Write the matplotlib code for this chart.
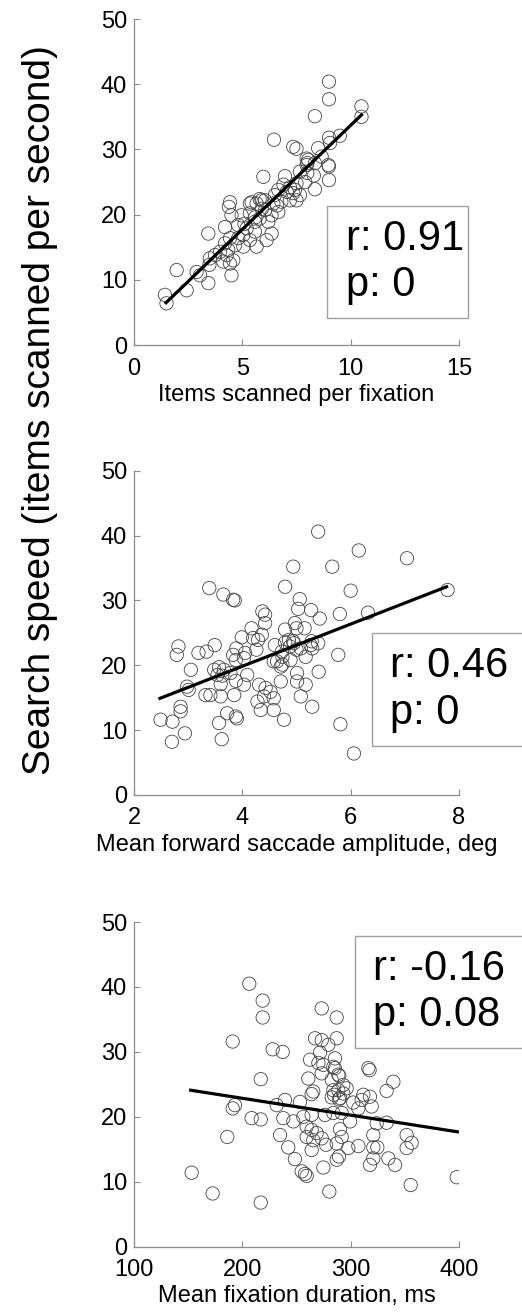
import matplotlib
matplotlib.use("Agg")
from matplotlib import pyplot as plt
from matplotlib.patches import Rectangle

plt.rcParams["font.family"] = ["Liberation Sans", "DejaVu Sans"]

# panel 1: items scanned per fixation
p1_x = [9.0, 9.0, 8.35, 10.5, 10.5, 6.46, 7.35, 7.5, 9.0, 9.5, 9.05, 8.5, 8.66, 7.97, 8.0, 8.35,
        9.0, 9.0, 8.35, 7.66, 6.97, 5.97, 8.0, 6.66, 7.05, 7.43, 7.66, 7.2, 6.8, 5.8, 6.05, 5.43,
        4.43, 4.38, 8.04, 7.97, 8.97, 7.5, 7.35, 7.5, 6.43, 5.89, 5.66, 5.35, 4.5, 4.97, 5.35, 6.05,
        6.35, 6.66, 5.8, 6.2, 5.58, 3.43, 4.2, 4.81, 5.2, 5.58, 5.05, 5.35, 4.81, 4.43, 4.2, 4.66,
        5.05, 5.66, 6.12, 6.35, 4.35, 4.28, 4.58, 3.97, 3.74, 4.12, 4.43, 3.5, 4.5, 3.43, 2.89, 3.05,
        2.43, 1.97, 1.43, 1.5, 3.48, 6.5, 6.9, 5.9, 7.9, 8.3, 5.1, 5.6, 6.6, 7.2]
p1_y = [40.4, 37.7, 35.1, 36.6, 35.0, 31.5, 30.4, 30.1, 31.8, 32.1, 31.0, 30.2, 28.9, 28.6, 27.9, 27.9,
        27.4, 25.3, 23.9, 26.6, 25.9, 25.8, 26.4, 23.8, 23.5, 23.8, 23.0, 22.2, 22.0, 22.4, 22.2, 21.9,
        21.9, 21.2, 28.4, 27.6, 27.6, 24.8, 23.3, 22.2, 21.7, 22.2, 21.7, 21.7, 19.9, 19.9, 20.2, 20.7,
        19.9, 20.4, 19.4, 18.9, 18.9, 17.1, 18.1, 18.4, 17.9, 17.4, 16.9, 16.1, 16.4, 16.4, 15.6, 15.3,
        15.1, 15.1, 16.1, 17.1, 14.6, 13.8, 13.0, 14.3, 13.8, 12.8, 12.5, 13.3, 10.7, 9.5, 11.2, 10.7,
        8.4, 11.5, 7.7, 6.4, 12.3, 23.0, 24.6, 20.9, 25.0, 26.0, 18.6, 19.6, 21.4, 24.2]
p1_fit_x = [1.48, 10.5]
p1_fit_y = [6.5, 35.3]

# panel 2: mean forward saccade amplitude
p2_x = [5.40, 6.15, 7.04, 4.94, 5.66, 3.39, 3.65, 3.83, 3.86, 4.79, 6.0, 7.79, 5.06, 5.03, 5.27, 5.43,
        5.8, 6.32, 4.37, 4.42, 4.42, 4.97, 5.0, 5.15, 4.79, 4.17, 3.99, 4.2, 4.29, 4.26, 4.36, 2.82,
        2.79, 3.19, 3.34, 3.49, 3.89, 4.05, 3.83, 4.6, 4.79, 4.94, 4.88, 5.0, 4.73, 5.28, 5.4, 5.77,
        4.03, 3.88, 4.86, 4.95, 5.08, 5.26, 5.29, 5.17, 4.74, 4.64, 4.74, 4.58, 4.71, 4.89,
        3.05, 3.48, 3.57, 3.66, 3.54, 3.63, 3.6, 3.78, 3.88, 4.03, 4.09, 3.41, 3.6, 3.85, 3.32, 3.72,
        3.88, 3.57, 2.98, 3.01, 2.86, 2.86, 2.49, 2.71, 2.7, 2.94, 3.62, 3.9,
        4.31, 4.43, 4.52, 4.4, 4.58, 4.71, 4.28, 4.34, 4.58, 4.77, 5.08, 5.01, 5.01, 5.17, 5.29, 5.41,
        5.81, 6.06]
p2_y = [40.6, 37.7, 36.5, 35.2, 35.2, 31.9, 30.9, 30.1, 30.0, 32.1, 31.5, 31.6, 30.2, 28.7, 28.5, 27.2,
        27.9, 28.1, 28.3, 27.8, 26.5, 26.5, 25.7, 25.7, 25.5, 25.7, 24.3, 24.2, 23.9, 22.4, 24.7, 22.9,
        21.6, 21.9, 22.1, 23.1, 22.6, 21.9, 21.6, 23.1, 23.5, 23.7, 22.9, 22.4, 22.1, 23.7, 23.4, 21.6,
        21.1, 20.8, 23.9, 23.4, 22.6, 23.1, 22.6, 21.3, 21.3, 20.6, 20.1, 20.6, 19.8, 20.8,
        19.3, 19.3, 19.7, 19.3, 18.5, 18.4, 17.1, 18.8, 17.6, 17.0, 18.5, 15.4, 15.2, 15.4, 15.4, 12.6,
        12.1, 11.1, 16.7, 16.2, 13.6, 12.9, 11.6, 11.3, 8.2, 9.5, 8.6, 11.8,
        17.0, 16.5, 15.9, 15.2, 14.9, 17.5, 14.4, 13.1, 13.1, 11.6, 15.2, 18.8, 17.5, 17.0, 13.6, 19.0,
        10.9, 6.4]
p2_fit_x = [2.48, 7.77]
p2_fit_y = [14.9, 32.1]

# panel 3: mean fixation duration
p3_x = [206.4, 218.8, 218.8, 191.1, 228, 237.3, 273.3, 287.1, 287.1, 267.1, 273.3, 279.4, 271.7, 285.5,
        262.5, 270.2, 274.8, 284, 288.6, 260.9, 282.5, 293.2, 265.5, 284.6, 293.2, 288.6, 290.2, 217,
        316.3, 317.5, 339.4, 333.2, 311.7, 317.8, 193.2, 239.4, 253.2,
        285.5, 289.5, 273.3, 284, 264, 282.5, 296.3, 302.4, 310.2, 289.2,
        191.1, 208.6, 217, 186.1, 153.2, 172.6, 217,
        231.7, 237.8, 247.1, 256.3, 264, 276.3, 284, 291.7, 299.4, 307.1, 319.4, 324, 333.2,
        259.4, 264, 259.4, 268.6, 265.5, 273.3, 277.3, 264, 290.2, 291.7, 297.8, 287.1, 307.1, 320.9,
        320.9, 324.6, 320.9, 317.8, 334.8, 341, 351.7, 356.3, 351.7, 234.8, 242.4, 248.5, 254.8, 257.8,
        259.4, 274.8, 287.1, 289.2, 355.4, 280.3, 397.9]
p3_y = [40.5, 37.9, 35.3, 31.6, 30.4, 30.0, 36.7, 35.3, 32.1, 32.1, 31.8, 31.1, 29.9, 29.0,
        28.8, 28.3, 28.0, 27.7, 26.5, 25.9, 25.7, 24.9, 23.9, 23.4, 23.6, 24.1, 22.9, 25.8,
        27.5, 27.2, 25.4, 24.0, 23.4, 23.1, 21.8, 22.6, 22.3,
        27.5, 26.3, 26.7, 24.1, 23.5, 23.0, 24.4, 22.2, 22.6, 22.7,
        21.3, 19.8, 19.6, 16.9, 11.4, 8.2, 6.8,
        21.8, 19.8, 19.3, 20.0, 20.3, 20.3, 20.6, 20.6, 19.3, 21.3, 21.6, 19.0, 19.1,
        18.5, 18.0, 16.9, 17.5, 16.4, 16.7, 15.7, 14.9, 18.1, 16.9, 15.2, 15.9, 15.5, 17.2,
        15.3, 15.3, 13.6, 12.6, 13.6, 12.6, 17.2, 16.0, 15.2, 17.2, 15.3, 13.5, 11.6, 11.2,
        10.9, 12.2, 13.4, 13.9, 9.5, 8.5, 10.7]
p3_fit_x = [152.3, 398.5]
p3_fit_y = [24.1, 17.7]

panels = [
    (p1_x, p1_y, p1_fit_x, p1_fit_y, "Items scanned per fixation", (0, 15), [0, 5, 10, 15],
     ["r: 0.91", "p: 0"], (0.594, 0.083, 0.434, 0.343), (0.652, 0.255)),
    (p2_x, p2_y, p2_fit_x, p2_fit_y, "Mean forward saccade amplitude, deg", (2, 8), [2, 4, 6, 8],
     ["r: 0.46", "p: 0"], (0.732, 0.151, 0.6, 0.349), (0.788, 0.325)),
    (p3_x, p3_y, p3_fit_x, p3_fit_y, "Mean fixation duration, ms", (100, 400), [100, 200, 300, 400],
     ["r: -0.16", "p: 0.08"], (0.68, 0.613, 0.6, 0.345), (0.736, 0.785)),
]
positions = [[0.2567, 0.7374, 0.6226, 0.2481],
             [0.2567, 0.3950, 0.6226, 0.2468],
             [0.2567, 0.0512, 0.6226, 0.2471]]

fig = plt.figure(figsize=(5.22, 13.14), dpi=100)

for pos, (x, y, fx, fy, xlabel, xlim, xticks, stats, box, tpos) in zip(positions, panels):
    ax = fig.add_axes(pos)
    ax.scatter(x, y, s=92, facecolors="none", edgecolors="#444444", linewidths=0.6, zorder=2)
    ax.plot(fx, fy, color="black", lw=2.3, zorder=3)
    ax.set_xlim(*xlim)
    ax.set_ylim(0, 50)
    ax.set_xticks(xticks)
    ax.set_yticks([0, 10, 20, 30, 40, 50])
    ax.set_xlabel(xlabel, fontsize=17, labelpad=3)
    for side in ["top", "right"]:
        ax.spines[side].set_visible(False)
    for side in ["left", "bottom"]:
        ax.spines[side].set_color("#8c8c8c")
        ax.spines[side].set_linewidth(0.9)
    ax.tick_params(direction="in", length=4, width=0.8, color="#8c8c8c", labelsize=17, pad=5)
    ax.tick_params(axis="x", pad=9)
    rect = Rectangle((box[0], box[1]), box[2], box[3], transform=ax.transAxes, fill=False,
                     edgecolor="#a0a0a0", linewidth=1.0, clip_on=False, zorder=4)
    ax.add_patch(rect)
    ax.text(tpos[0], tpos[1], "\n".join(stats), transform=ax.transAxes, fontsize=30,
            ha="left", va="center", linespacing=1.2, zorder=5)

fig.text(40 / 522, 1 - 410 / 1314, "Search speed (items scanned per second)", rotation=90,
         fontsize=28, ha="center", va="center")

fig.savefig("out.png", dpi=100)
